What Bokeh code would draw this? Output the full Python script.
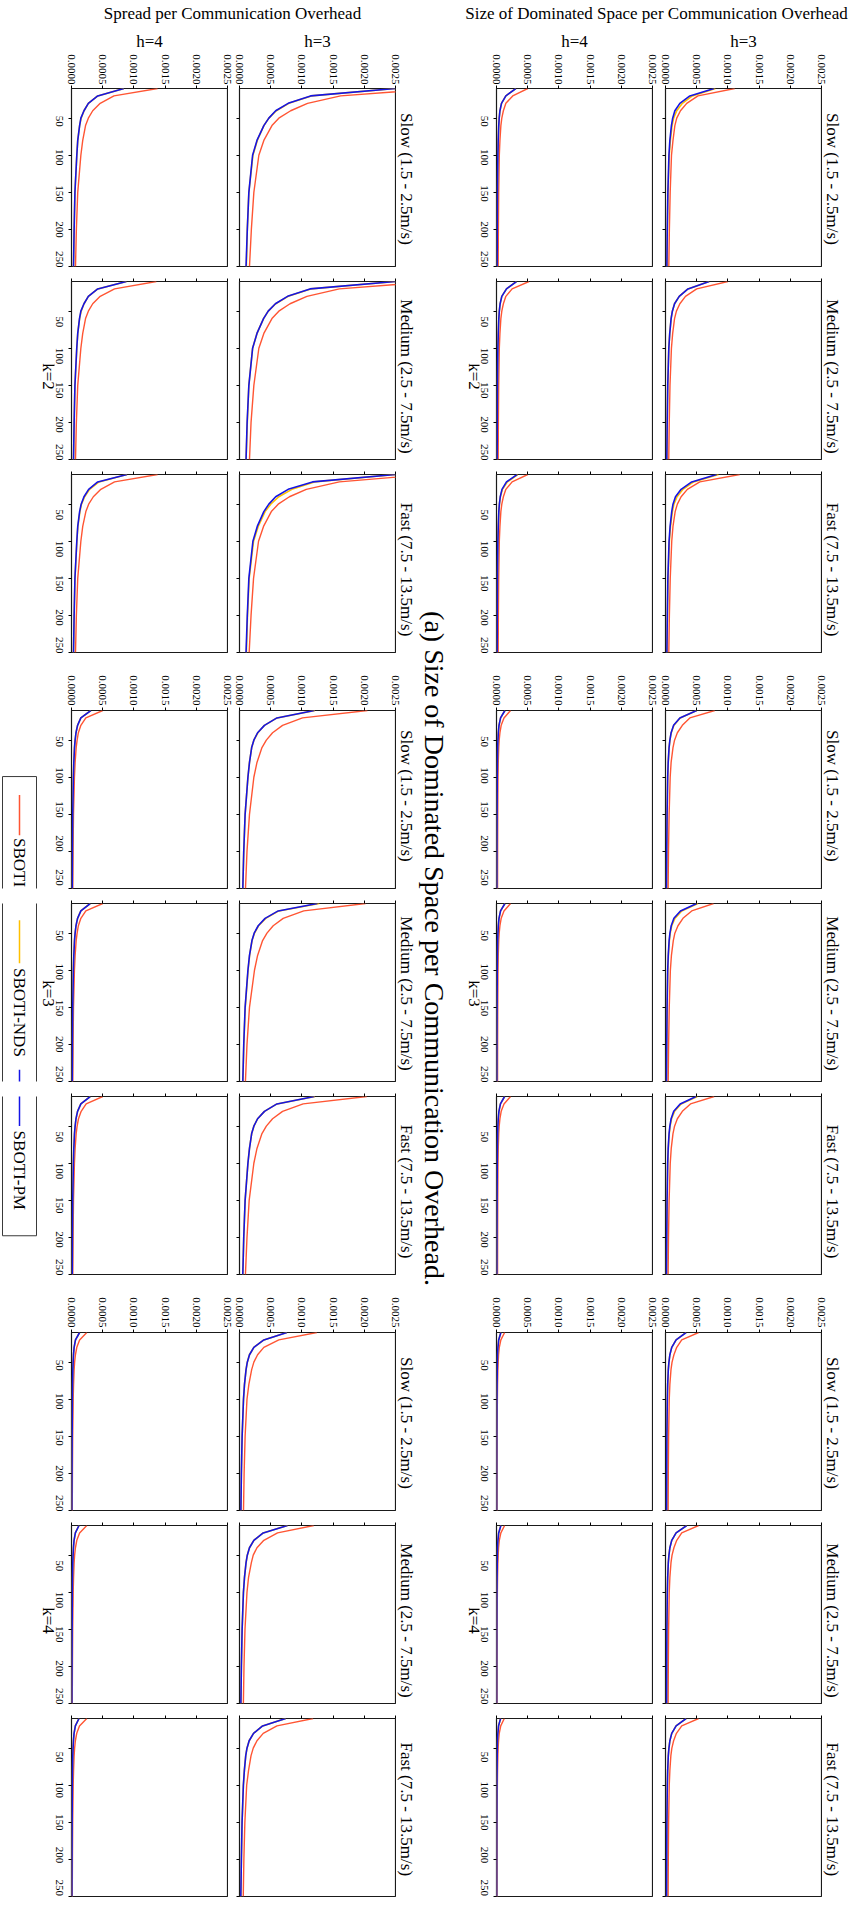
import math
from bokeh.plotting import figure
from bokeh.layouts import row, column
from bokeh.models import Range1d, LinearAxis, FixedTicker, PrintfTickFormatter, CustomJSTickFormatter
from bokeh.core.properties import value
from bokeh.embed import file_html
from bokeh.resources import INLINE

# ---------------------------------------------------------------- data
ITERATIONS = [10, 20, 30, 40, 50, 60, 80, 100, 150, 200, 250]
SPEEDS = ["Slow (1.5 - 2.5m/s)", "Medium (2.5 - 7.5m/s)", "Fast (7.5 - 13.5m/s)"]
K_LABELS = ["k=2", "k=3", "k=4"]
H_LABELS = ["h=3", "h=4"]
SERIES = ["SBOTI", "SBOTI-NDS", "SBOTI-PM"]
VALUE_TICKS = [0.0, 0.0005, 0.001, 0.0015, 0.002, 0.0025]
ITER_TICKS = [50, 100, 150, 200, 250]
TITLE_SPREAD = "Spread per Communication Overhead"
TITLE_SDS = "Size of Dominated Space per Communication Overhead"
CAPTION = "(a) Size of Dominated Space per Communication Overhead."
UNIT = 1e-4  # every value list below is in units of 1e-4
# panel order in each list: k=2 Slow, Medium, Fast, k=3 Slow, Medium, Fast, k=4 Slow, Medium, Fast

SPREAD_H3_SBOTI = [
    [32.0, 16.2, 10.9, 8.2, 6.3, 5.2, 3.9, 3.1, 2.3, 1.9, 1.6],
    [31.0, 16.0, 10.8, 8.1, 6.3, 5.2, 3.9, 3.1, 2.3, 1.85, 1.6],
    [30.0, 16.0, 10.7, 8.0, 6.2, 5.1, 3.85, 3.05, 2.25, 1.85, 1.55],
    [20.5, 10.1, 6.9, 5.3, 4.3, 3.6, 2.8, 2.3, 1.6, 1.2, 0.96],
    [20.2, 10.3, 7.0, 5.4, 4.4, 3.7, 2.9, 2.4, 1.6, 1.2, 0.95],
    [20.4, 10.2, 6.9, 5.3, 4.3, 3.6, 2.8, 2.3, 1.55, 1.2, 0.95],
    [12.4, 6.3, 3.9, 2.9, 2.3, 1.95, 1.5, 1.2, 0.9, 0.74, 0.64],
    [11.9, 6.1, 3.9, 2.8, 2.2, 1.9, 1.45, 1.2, 0.88, 0.72, 0.62],
    [11.8, 6.0, 3.8, 2.8, 2.2, 1.85, 1.45, 1.15, 0.86, 0.7, 0.6],
]
SPREAD_H3_NDS = [
    [25.0, 11.5, 7.9, 5.9, 4.7, 3.9, 2.85, 2.15, 1.5, 1.25, 1.1],
    [25.0, 11.4, 7.8, 5.8, 4.6, 3.85, 2.8, 2.1, 1.5, 1.25, 1.05],
    [25.0, 12.0, 8.4, 6.3, 5.0, 4.1, 3.0, 2.25, 1.55, 1.28, 1.1],
    [12.1, 6.0, 4.0, 2.95, 2.3, 1.95, 1.6, 1.35, 0.9, 0.68, 0.53],
    [12.8, 6.3, 4.2, 3.05, 2.4, 2.0, 1.62, 1.37, 0.92, 0.69, 0.54],
    [12.1, 6.0, 4.0, 2.9, 2.3, 1.95, 1.6, 1.35, 0.9, 0.68, 0.53],
    [7.6, 3.9, 2.3, 1.6, 1.25, 1.05, 0.8, 0.64, 0.42, 0.3, 0.22],
    [7.7, 3.8, 2.3, 1.6, 1.25, 1.05, 0.8, 0.63, 0.42, 0.3, 0.22],
    [7.4, 3.7, 2.25, 1.55, 1.2, 1.0, 0.78, 0.62, 0.41, 0.3, 0.21],
]
SPREAD_H3_PM = [
    [25.0, 11.4, 7.8, 5.8, 4.7, 3.9, 2.8, 2.1, 1.5, 1.25, 1.05],
    [25.0, 11.3, 7.7, 5.75, 4.6, 3.85, 2.8, 2.1, 1.5, 1.22, 1.05],
    [25.0, 11.7, 7.8, 5.8, 4.7, 3.9, 2.85, 2.15, 1.5, 1.25, 1.05],
    [12.0, 6.0, 4.0, 2.9, 2.3, 1.95, 1.6, 1.35, 0.9, 0.68, 0.53],
    [12.5, 6.2, 4.1, 3.0, 2.35, 2.0, 1.6, 1.35, 0.9, 0.68, 0.53],
    [12.0, 6.0, 4.0, 2.9, 2.3, 1.95, 1.6, 1.35, 0.9, 0.68, 0.53],
    [7.6, 3.9, 2.3, 1.6, 1.25, 1.05, 0.8, 0.64, 0.42, 0.3, 0.22],
    [7.7, 3.8, 2.3, 1.6, 1.25, 1.05, 0.8, 0.63, 0.42, 0.3, 0.22],
    [7.4, 3.7, 2.25, 1.55, 1.2, 1.0, 0.78, 0.62, 0.41, 0.3, 0.21],
]
SPREAD_H4_SBOTI = [
    [13.8, 6.8, 4.6, 3.4, 2.7, 2.25, 1.8, 1.5, 1.0, 0.78, 0.64],
    [13.6, 6.9, 4.6, 3.4, 2.7, 2.25, 1.8, 1.5, 1.0, 0.78, 0.64],
    [13.8, 6.9, 4.7, 3.5, 2.75, 2.3, 1.8, 1.5, 1.0, 0.78, 0.64],
    [5.0, 2.3, 1.5, 1.1, 0.9, 0.75, 0.58, 0.47, 0.32, 0.25, 0.2],
    [5.0, 2.3, 1.5, 1.1, 0.9, 0.75, 0.58, 0.47, 0.32, 0.25, 0.2],
    [5.0, 2.35, 1.55, 1.12, 0.9, 0.75, 0.58, 0.47, 0.32, 0.25, 0.2],
    [2.45, 1.3, 0.85, 0.63, 0.5, 0.42, 0.33, 0.27, 0.19, 0.15, 0.12],
    [2.45, 1.3, 0.85, 0.63, 0.5, 0.42, 0.33, 0.27, 0.19, 0.15, 0.12],
    [2.45, 1.28, 0.84, 0.62, 0.5, 0.42, 0.33, 0.27, 0.19, 0.15, 0.12],
]
SPREAD_H4_NDS = [
    [8.4, 4.2, 2.7, 2.0, 1.55, 1.3, 1.0, 0.85, 0.55, 0.42, 0.32],
    [8.8, 4.2, 2.7, 2.0, 1.55, 1.3, 1.0, 0.85, 0.55, 0.42, 0.32],
    [8.9, 4.4, 2.9, 2.1, 1.6, 1.35, 1.02, 0.86, 0.56, 0.42, 0.32],
    [3.1, 1.5, 0.97, 0.72, 0.58, 0.48, 0.37, 0.3, 0.2, 0.15, 0.12],
    [3.0, 1.5, 0.97, 0.72, 0.58, 0.48, 0.37, 0.3, 0.2, 0.15, 0.12],
    [3.0, 1.5, 0.97, 0.72, 0.58, 0.48, 0.37, 0.3, 0.2, 0.15, 0.12],
    [1.3, 0.64, 0.42, 0.32, 0.26, 0.22, 0.17, 0.14, 0.1, 0.08, 0.06],
    [1.2, 0.62, 0.41, 0.31, 0.25, 0.21, 0.16, 0.13, 0.1, 0.08, 0.06],
    [1.2, 0.62, 0.41, 0.31, 0.25, 0.21, 0.16, 0.13, 0.1, 0.08, 0.06],
]
SPREAD_H4_PM = [
    [8.4, 4.2, 2.7, 2.0, 1.5, 1.3, 1.0, 0.85, 0.55, 0.42, 0.32],
    [8.8, 4.2, 2.7, 2.0, 1.5, 1.28, 1.0, 0.84, 0.55, 0.42, 0.32],
    [8.9, 4.2, 2.75, 2.0, 1.55, 1.3, 1.0, 0.85, 0.55, 0.42, 0.32],
    [3.1, 1.5, 0.97, 0.72, 0.58, 0.48, 0.37, 0.3, 0.2, 0.15, 0.12],
    [3.0, 1.5, 0.97, 0.72, 0.58, 0.48, 0.37, 0.3, 0.2, 0.15, 0.12],
    [3.0, 1.5, 0.97, 0.72, 0.58, 0.48, 0.37, 0.3, 0.2, 0.15, 0.12],
    [1.3, 0.64, 0.42, 0.32, 0.26, 0.22, 0.17, 0.14, 0.1, 0.08, 0.06],
    [1.2, 0.62, 0.41, 0.31, 0.25, 0.21, 0.16, 0.13, 0.1, 0.08, 0.06],
    [1.2, 0.62, 0.41, 0.31, 0.25, 0.21, 0.16, 0.13, 0.1, 0.08, 0.06],
]
SDS_H3_SBOTI = [
    [11.1, 5.2, 3.4, 2.4, 1.8, 1.5, 1.2, 0.96, 0.75, 0.62, 0.53],
    [10.0, 5.0, 3.2, 2.3, 1.75, 1.45, 1.15, 0.95, 0.72, 0.6, 0.52],
    [11.9, 5.5, 3.5, 2.5, 1.9, 1.55, 1.2, 1.0, 0.76, 0.62, 0.53],
    [7.9, 3.9, 2.7, 1.9, 1.45, 1.2, 0.9, 0.75, 0.58, 0.48, 0.42],
    [7.7, 4.2, 2.8, 2.0, 1.5, 1.25, 0.95, 0.78, 0.6, 0.5, 0.43],
    [7.8, 4.0, 2.7, 1.9, 1.45, 1.2, 0.92, 0.76, 0.58, 0.48, 0.42],
    [5.3, 2.6, 1.8, 1.35, 1.05, 0.88, 0.7, 0.6, 0.5, 0.45, 0.42],
    [5.3, 2.6, 1.8, 1.35, 1.05, 0.88, 0.7, 0.6, 0.5, 0.45, 0.42],
    [5.3, 2.6, 1.75, 1.3, 1.02, 0.86, 0.7, 0.6, 0.5, 0.45, 0.42],
]
SDS_H3_NDS = [
    [8.0, 4.3, 2.7, 1.8, 1.3, 1.05, 0.78, 0.6, 0.4, 0.3, 0.23],
    [7.0, 3.6, 2.2, 1.45, 1.1, 0.9, 0.68, 0.53, 0.36, 0.27, 0.21],
    [8.5, 4.5, 2.8, 1.85, 1.35, 1.1, 0.8, 0.62, 0.41, 0.31, 0.23],
    [5.0, 2.35, 1.35, 0.92, 0.71, 0.58, 0.44, 0.35, 0.25, 0.2, 0.16],
    [5.2, 2.6, 1.5, 1.0, 0.76, 0.62, 0.46, 0.37, 0.26, 0.2, 0.16],
    [5.1, 2.5, 1.45, 0.97, 0.74, 0.6, 0.45, 0.36, 0.25, 0.2, 0.16],
    [3.3, 1.7, 1.0, 0.7, 0.55, 0.45, 0.35, 0.29, 0.22, 0.2, 0.18],
    [3.4, 1.7, 1.0, 0.7, 0.55, 0.45, 0.35, 0.29, 0.22, 0.2, 0.18],
    [3.3, 1.7, 1.0, 0.7, 0.55, 0.45, 0.35, 0.29, 0.22, 0.2, 0.18],
]
SDS_H3_PM = [
    [7.8, 3.9, 2.3, 1.5, 1.15, 0.95, 0.7, 0.55, 0.38, 0.28, 0.22],
    [7.0, 3.6, 2.2, 1.45, 1.1, 0.9, 0.68, 0.53, 0.36, 0.27, 0.21],
    [8.2, 4.2, 2.5, 1.6, 1.2, 1.0, 0.74, 0.57, 0.38, 0.29, 0.22],
    [5.0, 2.3, 1.3, 0.9, 0.7, 0.57, 0.43, 0.35, 0.25, 0.2, 0.16],
    [5.0, 2.4, 1.35, 0.92, 0.71, 0.58, 0.44, 0.35, 0.25, 0.2, 0.16],
    [4.9, 2.35, 1.32, 0.9, 0.7, 0.57, 0.43, 0.35, 0.25, 0.2, 0.16],
    [3.3, 1.7, 1.0, 0.7, 0.55, 0.45, 0.35, 0.29, 0.22, 0.2, 0.18],
    [3.4, 1.7, 1.0, 0.7, 0.55, 0.45, 0.35, 0.29, 0.22, 0.2, 0.18],
    [3.3, 1.7, 1.0, 0.7, 0.55, 0.45, 0.35, 0.29, 0.22, 0.2, 0.18],
]
SDS_H4_SBOTI = [
    [5.0, 2.6, 1.5, 1.1, 0.85, 0.7, 0.55, 0.45, 0.35, 0.3, 0.27],
    [5.2, 2.5, 1.5, 1.1, 0.85, 0.7, 0.55, 0.45, 0.35, 0.3, 0.27],
    [5.0, 2.5, 1.5, 1.1, 0.85, 0.7, 0.55, 0.45, 0.35, 0.3, 0.27],
    [2.25, 1.2, 0.75, 0.55, 0.43, 0.36, 0.28, 0.24, 0.2, 0.18, 0.17],
    [2.25, 1.2, 0.75, 0.55, 0.43, 0.36, 0.28, 0.24, 0.2, 0.18, 0.17],
    [2.25, 1.2, 0.75, 0.55, 0.43, 0.36, 0.28, 0.24, 0.2, 0.18, 0.17],
    [1.3, 0.7, 0.45, 0.33, 0.27, 0.22, 0.17, 0.14, 0.1, 0.08, 0.07],
    [1.3, 0.7, 0.45, 0.33, 0.27, 0.22, 0.17, 0.14, 0.1, 0.08, 0.07],
    [1.25, 0.68, 0.44, 0.33, 0.26, 0.22, 0.17, 0.14, 0.1, 0.08, 0.07],
]
SDS_H4_NDS = [
    [3.1, 1.5, 0.8, 0.55, 0.43, 0.36, 0.27, 0.22, 0.15, 0.12, 0.1],
    [3.2, 1.6, 0.85, 0.58, 0.45, 0.37, 0.28, 0.22, 0.15, 0.12, 0.1],
    [3.4, 1.75, 0.95, 0.62, 0.47, 0.38, 0.28, 0.23, 0.15, 0.12, 0.1],
    [1.35, 0.65, 0.4, 0.29, 0.23, 0.19, 0.15, 0.12, 0.09, 0.07, 0.06],
    [1.35, 0.65, 0.4, 0.29, 0.23, 0.19, 0.15, 0.12, 0.09, 0.07, 0.06],
    [1.3, 0.63, 0.39, 0.28, 0.22, 0.19, 0.15, 0.12, 0.09, 0.07, 0.06],
    [0.7, 0.35, 0.23, 0.17, 0.14, 0.12, 0.09, 0.07, 0.05, 0.04, 0.035],
    [0.7, 0.35, 0.23, 0.17, 0.14, 0.12, 0.09, 0.07, 0.05, 0.04, 0.035],
    [0.65, 0.33, 0.22, 0.16, 0.13, 0.11, 0.09, 0.07, 0.05, 0.04, 0.035],
]
SDS_H4_PM = [
    [3.1, 1.5, 0.8, 0.55, 0.43, 0.36, 0.27, 0.22, 0.15, 0.12, 0.1],
    [3.2, 1.6, 0.85, 0.58, 0.45, 0.37, 0.28, 0.22, 0.15, 0.12, 0.1],
    [3.3, 1.6, 0.88, 0.6, 0.46, 0.37, 0.28, 0.22, 0.15, 0.12, 0.1],
    [1.35, 0.65, 0.4, 0.29, 0.23, 0.19, 0.15, 0.12, 0.09, 0.07, 0.06],
    [1.35, 0.65, 0.4, 0.29, 0.23, 0.19, 0.15, 0.12, 0.09, 0.07, 0.06],
    [1.3, 0.63, 0.39, 0.28, 0.22, 0.19, 0.15, 0.12, 0.09, 0.07, 0.06],
    [0.7, 0.35, 0.23, 0.17, 0.14, 0.12, 0.09, 0.07, 0.05, 0.04, 0.035],
    [0.7, 0.35, 0.23, 0.17, 0.14, 0.12, 0.09, 0.07, 0.05, 0.04, 0.035],
    [0.65, 0.33, 0.22, 0.16, 0.13, 0.11, 0.09, 0.07, 0.05, 0.04, 0.035],
]

# ---------------------------------------------------------------- style / layout
SERIF = "Liberation Serif"
COLORS = {"SBOTI": "#ff5533", "SBOTI-NDS": "#ffc000", "SBOTI-PM": "#1414e6"}
LWIDTH = {"SBOTI": 1.4, "SBOTI-NDS": 1.6, "SBOTI-PM": 1.6}

PAGE_W, PAGE_H = 856, 1906
HEADER_H = 52
FRAME_W, FRAME_H = 156, 178
ROW_BT = [36, 14, 14, 57, 3, 14, 57, 14, 14]
ROW_BB = [1, 1, 1, 12, 1, 1, 1, 1, 10]
ROW_H = [bt + FRAME_H + bb for bt, bb in zip(ROW_BT, ROW_BB)]
ROW_TOP = []
_y = HEADER_H
for _h in ROW_H:
    ROW_TOP.append(_y)
    _y += _h
FRAME_TOP = [t + bt for t, bt in zip(ROW_TOP, ROW_BT)]
TOP_TICK_ROOM = 4
LAB_BORDER = 14

LEG_BOX = (2, 36, 778, 1233)
LEG_X = 19
LEG_ENTRIES = [("SBOTI", 798, 842, 845), ("SBOTI-NDS", 917, 961, 966), ("SBOTI-PM", 1070, 1114, 1119)]


def add_text(p, x, y_page, text, size, angle=-math.pi / 2, align="center", baseline="middle"):
    p.text(x=[x], y=[PAGE_H - y_page], text=[text], angle=angle, text_align=align,
           text_baseline=baseline, text_font=value(SERIF), text_font_size=size, text_color="black")


def blank_fig(width, height, xr, yr):
    p = figure(width=width, height=height, x_range=Range1d(*xr), y_range=Range1d(*yr),
               x_axis_location=None, y_axis_location=None, toolbar_location=None,
               output_backend="svg", min_border_left=0, min_border_right=0,
               min_border_top=0, min_border_bottom=0)
    p.xgrid.visible = False
    p.ygrid.visible = False
    p.outline_line_color = None
    return p


def style_axis(ax, size="11px"):
    ax.major_label_text_font = SERIF
    ax.major_label_text_font_size = size
    ax.major_label_text_color = "black"
    ax.minor_tick_line_color = None
    ax.minor_tick_in = 0
    ax.minor_tick_out = 0
    ax.axis_line_color = None


def bands(r):
    bottom = ROW_TOP[r] + ROW_H[r]
    if r % 3 == 0:
        cut = FRAME_TOP[r] - TOP_TICK_ROOM
        return [("top", ROW_TOP[r], cut), ("frame", cut, bottom)]
    return [("frame", ROW_TOP[r], bottom)]


def make_panel(r, top, bottom, bl, br, series_lists):
    p = figure(width=bl + FRAME_W + br, height=bottom - top,
               x_range=Range1d(0, 0.0025), y_range=Range1d(250, 10),
               x_axis_location="above", y_axis_location="left",
               toolbar_location=None, output_backend="svg",
               min_border_left=bl, min_border_right=br,
               min_border_top=FRAME_TOP[r] - top, min_border_bottom=ROW_BB[r])
    p.xgrid.visible = False
    p.ygrid.visible = False
    p.outline_line_color = "#1a1a1a"
    p.outline_line_width = 1.2
    xa = p.xaxis[0]
    style_axis(xa)
    xa.ticker = FixedTicker(ticks=VALUE_TICKS)
    xa.major_tick_out = 3
    xa.major_tick_in = 0
    xa.major_label_orientation = -math.pi / 2
    xa.formatter = CustomJSTickFormatter(code="return ''")
    xa.major_label_standoff = 0
    ya = p.yaxis[0]
    style_axis(ya)
    ya.ticker = FixedTicker(ticks=ITER_TICKS)
    ya.formatter = CustomJSTickFormatter(code="return ''")
    ya.major_label_orientation = "horizontal"
    ya.major_label_standoff = 0
    ya.major_tick_out = 3
    ya.major_tick_in = 0
    for name, vals in zip(SERIES, series_lists):
        p.line(x=[v * UNIT for v in vals], y=ITERATIONS, line_color=COLORS[name],
               line_width=LWIDTH[name])
    return p


def make_strip(top, bottom, bl, br):
    """Value-axis tick labels above a panel (shares the panel's value scale)."""
    h = bottom - top
    p = figure(width=bl + FRAME_W + br, height=h,
               x_range=Range1d(0, 0.0025), y_range=Range1d(0, 1),
               x_axis_location="above", y_axis_location=None,
               toolbar_location=None, output_backend="svg",
               min_border_left=bl, min_border_right=br,
               min_border_top=h - 1, min_border_bottom=0)
    p.xgrid.visible = False
    p.ygrid.visible = False
    p.outline_line_color = None
    xa = p.xaxis[0]
    style_axis(xa)
    xa.ticker = FixedTicker(ticks=VALUE_TICKS)
    xa.formatter = PrintfTickFormatter(format="%.4f")
    xa.major_tick_line_color = None
    xa.major_tick_out = 0
    xa.major_tick_in = 0
    xa.major_label_orientation = -math.pi / 2
    xa.major_label_standoff = 0
    return p


def make_label_host(r, top, bottom, width, x0, k_x, legend, with_axis):
    h = bottom - top
    border = LAB_BORDER if with_axis else 0
    fw = width - border
    p = figure(width=width, height=h, x_range=Range1d(x0, x0 + fw),
               y_range=Range1d(PAGE_H - bottom, PAGE_H - top),
               x_axis_location=None, y_axis_location=None, toolbar_location=None,
               output_backend="svg", min_border_left=0, min_border_right=border,
               min_border_top=0, min_border_bottom=0)
    p.xgrid.visible = False
    p.ygrid.visible = False
    p.outline_line_color = None
    if with_axis:
        s = 240.0 / FRAME_H
        p.extra_y_ranges = {"iter": Range1d(10 + (bottom - FRAME_TOP[r]) * s,
                                            10 + (top - FRAME_TOP[r]) * s)}
        ax = LinearAxis(y_range_name="iter", ticker=FixedTicker(ticks=ITER_TICKS))
        style_axis(ax)
        ax.major_tick_line_color = None
        ax.major_tick_in = 0
        ax.major_tick_out = 0
        ax.major_label_orientation = "vertical"
        ax.major_label_standoff = 1
        p.add_layout(ax, "right")
    if legend and bottom > LEG_BOX[2] and top < LEG_BOX[3]:
        l, rr, t, b = LEG_BOX
        p.quad(left=[l], right=[rr], top=[PAGE_H - t], bottom=[PAGE_H - b],
               fill_color="white", fill_alpha=0.8, line_color="#3a3a3a", line_width=1)
        for name, y0, y1, ty in LEG_ENTRIES:
            p.line(x=[LEG_X, LEG_X], y=[PAGE_H - y0, PAGE_H - y1], line_color=COLORS[name],
                   line_width=1.5)
            if top <= ty < bottom:
                add_text(p, LEG_X, ty, name, "17px", align="left")
    if with_axis and r % 3 == 1:
        add_text(p, k_x, FRAME_TOP[r] + FRAME_H / 2, K_LABELS[r // 3], "17px")
    return p


def make_speed_strip(r, top, bottom, x0, width, x_text, kind):
    p = blank_fig(width, bottom - top, (x0, x0 + width), (PAGE_H - bottom, PAGE_H - top))
    if kind == "frame":
        add_text(p, x_text, FRAME_TOP[r] + FRAME_H / 2, SPEEDS[r % 3], "17px")
    return p


SPREAD_H3 = [SPREAD_H3_SBOTI, SPREAD_H3_NDS, SPREAD_H3_PM]
SPREAD_H4 = [SPREAD_H4_SBOTI, SPREAD_H4_NDS, SPREAD_H4_PM]
SDS_H3 = [SDS_H3_SBOTI, SDS_H3_NDS, SDS_H3_PM]
SDS_H4 = [SDS_H4_SBOTI, SDS_H4_NDS, SDS_H4_PM]

# header
header = blank_fig(PAGE_W, HEADER_H, (0, PAGE_W), (PAGE_H - HEADER_H, PAGE_H))
add_text(header, 232, 13, TITLE_SPREAD, "17px", angle=0)
add_text(header, 656, 13, TITLE_SDS, "17px", angle=0)
for xc, lab in [(149, H_LABELS[1]), (317, H_LABELS[0]), (574, H_LABELS[1]), (743, H_LABELS[0])]:
    add_text(header, xc, 41, lab, "17px", angle=0)

left_bands, right_bands = [], []
for r in range(9):
    for kind, top, bottom in bands(r):
        if kind == "top":
            left_bands.append(row(
                make_label_host(r, top, bottom, 62, 0, 48, True, False),
                make_strip(top, bottom, 9, 6),
                make_strip(top, bottom, 6, 20)))
            right_bands.append(row(
                make_label_host(r, top, bottom, 28, 461, 473.5, False, False),
                make_strip(top, bottom, 7, 6),
                make_strip(top, bottom, 7, 35)))
        else:
            left_bands.append(row(
                make_label_host(r, top, bottom, 68, 0, 48, True, True),
                make_panel(r, top, bottom, 3, 1, [s[r] for s in SPREAD_H4]),
                make_panel(r, top, bottom, 11, 1, [s[r] for s in SPREAD_H3]),
                make_speed_strip(r, top, bottom, 396, 19, 405.5, kind)))
            right_bands.append(row(
                make_label_host(r, top, bottom, 32, 461, 473.5, False, True),
                make_panel(r, top, bottom, 3, 1, [s[r] for s in SDS_H4]),
                make_panel(r, top, bottom, 12, 1, [s[r] for s in SDS_H3]),
                make_speed_strip(r, top, bottom, 822, 34, 831.8, kind)))

# centre strip with the caption
C = blank_fig(46, PAGE_H - HEADER_H, (415, 461), (0, PAGE_H - HEADER_H))
add_text(C, 434, 948, CAPTION, "28px")

body = row(column(left_bands), C, column(right_bands))
layout = column(header, body)

open("out.html", "w").write(file_html(layout, INLINE))
